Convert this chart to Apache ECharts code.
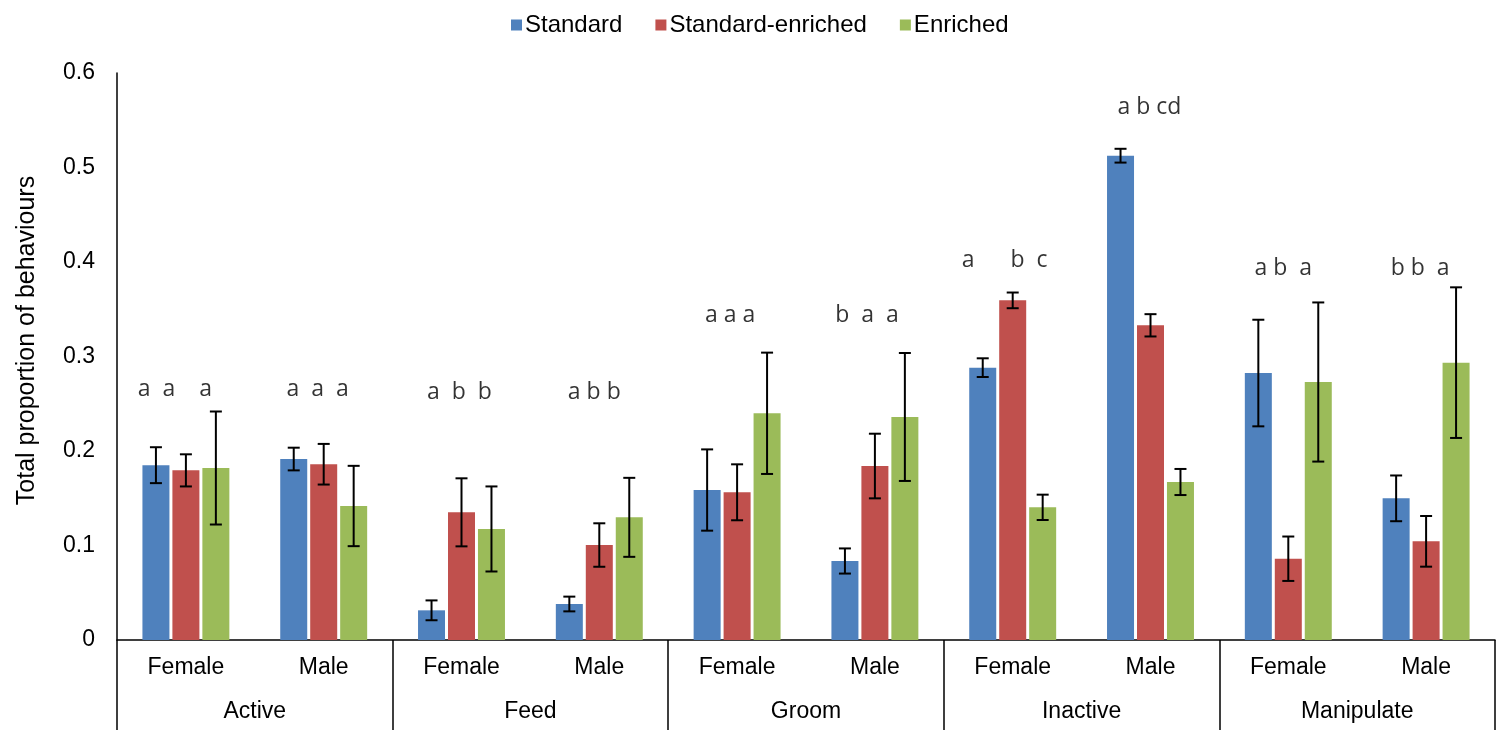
<!DOCTYPE html>
<html>
<head>
<meta charset="utf-8">
<script src="https://cdn.jsdelivr.net/npm/echarts@6/dist/echarts.min.js"></script>
<style>
html,body{margin:0;padding:0;background:#fff;}
#chart{width:1498px;height:730px;}
</style>
</head>
<body>
<div id="chart"></div>
<script>
const categories = ['Female','Male','Female','Male','Female','Male','Female','Male','Female','Male'];
const behaviours = ['Active','Feed','Groom','Inactive','Manipulate'];
const seriesNames = ['Standard','Standard-enriched','Enriched'];
const standard = [0.185, 0.1915, 0.0314, 0.0381, 0.1587, 0.0836, 0.2882, 0.5125, 0.2825, 0.1499];
const standardErr = [0.019, 0.012, 0.0105, 0.0078, 0.043, 0.0133, 0.0099, 0.0073, 0.0564, 0.0242];
const standardEnriched = [0.1795, 0.186, 0.1351, 0.1005, 0.1563, 0.1841, 0.3594, 0.333, 0.086, 0.1044];
const standardEnrichedErr = [0.017, 0.0215, 0.036, 0.023, 0.0296, 0.0342, 0.0083, 0.0118, 0.0235, 0.0268];
const enriched = [0.182, 0.1418, 0.1175, 0.1298, 0.2399, 0.236, 0.1404, 0.1672, 0.273, 0.2935];
const enrichedErr = [0.0598, 0.0425, 0.045, 0.0418, 0.0642, 0.0677, 0.0134, 0.0138, 0.0842, 0.0797];
const letters = ['a  a    a','a  a  a','a  b  b','a b b','a a a','b  a  a','a      b  c','a b cd','a b  a','b b  a'];
const letterLevels = [0.2646, 0.2646, 0.2624, 0.2624, 0.343, 0.343, 0.402, 0.564, 0.3937, 0.3937];
const yTicks = [0, 0.1, 0.2, 0.3, 0.4, 0.5, 0.6];

// style: horizontal nudges (px) of the letter annotations
const letterNudge = [-11, -6, -2, -5, -7, -8, -8, -1, -5, -6];

const colors = ['#4F81BD','#C0504D','#9BBB59'];
const BAR_W = 27;
const GAP_RATIO = 0.11;
const values = [standard, standardEnriched, enriched];
const errs = [standardErr, standardEnrichedErr, enrichedErr];

const chart = echarts.init(document.getElementById('chart'));
const font = 'Liberation Sans, Arial, sans-serif';

const series = [];
values.forEach((vals, i) => {
  series.push({
    name: seriesNames[i],
    type: 'bar',
    xAxisIndex: 0,
    barWidth: BAR_W,
    barGap: (GAP_RATIO * 100) + '%',
    itemStyle: { color: colors[i] },
    silent: true,
    data: vals
  });
});
values.forEach((vals, i) => {
  series.push({
    name: seriesNames[i] + ' error',
    type: 'custom',
    xAxisIndex: 0,
    z: 10,
    silent: true,
    clip: false,
    data: vals.map((v, k) => [k, v, errs[i][k]]),
    encode: { x: 0, y: 1 },
    renderItem: function (params, api) {
      const k = api.value(0), v = api.value(1), e = api.value(2);
      const off = (i - 1) * (BAR_W * (1 + GAP_RATIO));
      const hi = api.coord([k, v + e]);
      const lo = api.coord([k, v - e]);
      const cx = hi[0] + off;
      const cap = 6;
      const st = { stroke: '#000', lineWidth: 2 };
      return {
        type: 'group',
        children: [
          { type: 'line', shape: { x1: cx, y1: hi[1], x2: cx, y2: lo[1] }, style: st },
          { type: 'line', shape: { x1: cx - cap, y1: hi[1], x2: cx + cap, y2: hi[1] }, style: st },
          { type: 'line', shape: { x1: cx - cap, y1: lo[1], x2: cx + cap, y2: lo[1] }, style: st }
        ]
      };
    }
  });
});
series.push({
  name: 'letters',
  type: 'scatter',
  xAxisIndex: 0,
  symbolSize: 0,
  silent: true,
  z: 20,
  data: letterLevels.map((v, k) => ({
    value: [k, v],
    label: { offset: [letterNudge[k], 0] }
  })),
  label: {
    show: true,
    position: 'inside',
    formatter: p => letters[p.dataIndex],
    color: '#000',
    fontSize: 23,
    fontFamily: 'Open Sans, sans-serif'
  }
});

chart.setOption({
  animation: false,
  backgroundColor: '#fff',
  legend: {
    data: seriesNames,
    top: 8,
    left: 506,
    icon: 'rect',
    itemWidth: 11,
    itemHeight: 11,
    itemGap: 33,
    textStyle: { fontSize: 24, color: '#000', fontFamily: font, padding: [0, 0, 0, -2] }
  },
  grid: { left: 117, right: 3, top: 73, bottom: 90, containLabel: false },
  xAxis: [
    {
      type: 'category',
      data: categories,
      position: 'bottom',
      axisLine: { show: true, lineStyle: { color: '#000', width: 1.5 } },
      axisTick: { show: false },
      axisLabel: { margin: 16, fontSize: 23, color: '#000', fontFamily: font, interval: 0 }
    },
    {
      type: 'category',
      data: behaviours,
      position: 'bottom',
      axisLine: { show: false },
      axisTick: { show: true, length: 90, interval: 0, lineStyle: { color: '#000', width: 1.5 } },
      axisLabel: { margin: 60, fontSize: 23, color: '#000', fontFamily: font, interval: 0 }
    }
  ],
  yAxis: {
    type: 'value',
    min: yTicks[0],
    max: yTicks[yTicks.length - 1],
    interval: 0.1,
    name: 'Total proportion of behaviours',
    nameLocation: 'middle',
    nameGap: 77,
    nameTextStyle: { fontSize: 25, color: '#000', fontFamily: font, padding: [0, 0, 0, 32] },
    axisLine: { show: true, lineStyle: { color: '#000', width: 1.5 } },
    axisTick: { show: false },
    splitLine: { show: false },
    axisLabel: { margin: 22, fontSize: 23, color: '#000', fontFamily: font }
  },
  series: series
});
</script>
</body>
</html>
